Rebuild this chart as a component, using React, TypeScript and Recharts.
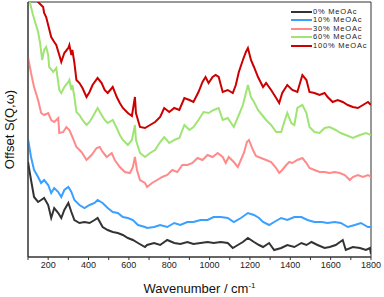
import { LineChart, Line, XAxis, YAxis, ReferenceArea, Label } from 'recharts';

// wavenumber (cm-1), offset S(Q,w) in arbitrary units
const mix0: [number, number][] = [
  [100, 95], [115, 77], [130, 60], [150, 55], [165, 57], [180, 59], [200, 52], [215, 39], [230, 49], [250, 44],
  [265, 39], [280, 47], [300, 54], [315, 45], [330, 37], [355, 34], [380, 35], [405, 34], [430, 37], [445, 39],
  [470, 30], [495, 27], [520, 25], [545, 24], [570, 22], [595, 19], [620, 17], [645, 14], [680, 10], [690, 12],
  [725, 14], [755, 12], [790, 17], [825, 14], [855, 13], [890, 15], [920, 13], [955, 14], [990, 15], [1020, 14],
  [1055, 15], [1090, 14], [1115, 9], [1140, 12], [1165, 15], [1190, 19], [1220, 15], [1245, 12], [1265, 10],
  [1295, 14], [1320, 7], [1355, 9], [1385, 12], [1420, 10], [1455, 14], [1480, 12], [1505, 15], [1535, 12],
  [1570, 9], [1595, 10], [1625, 12], [1660, 17], [1675, 7], [1710, 10], [1745, 9], [1775, 7], [1795, 9], [1800, 3],
];

const mix10: [number, number][] = [
  [100, 118], [115, 100], [130, 87], [150, 80], [165, 74], [180, 77], [200, 72], [215, 64], [230, 69], [250, 65],
  [265, 60], [280, 67], [300, 70], [315, 65], [330, 57], [355, 52], [380, 49], [405, 52], [430, 54], [445, 57],
  [470, 54], [495, 49], [520, 45], [545, 44], [570, 40], [595, 39], [620, 37], [645, 32], [680, 30], [690, 29],
  [725, 30], [755, 32], [790, 30], [825, 34], [855, 32], [890, 35], [920, 35], [955, 37], [990, 37], [1020, 40],
  [1055, 40], [1090, 39], [1120, 35], [1155, 39], [1190, 44], [1220, 42], [1245, 39], [1265, 35], [1295, 32],
  [1320, 35], [1355, 39], [1385, 37], [1420, 40], [1455, 40], [1485, 37], [1520, 35], [1555, 35], [1585, 34],
  [1620, 35], [1650, 34], [1685, 30], [1720, 32], [1750, 34], [1785, 30], [1800, 30],
];

const mix30: [number, number][] = [
  [100, 200], [115, 184], [130, 170], [150, 157], [165, 144], [180, 142], [200, 144], [215, 137], [230, 135],
  [250, 139], [255, 124], [275, 125], [290, 130], [305, 127], [320, 120], [340, 110], [365, 105], [390, 97],
  [415, 102], [440, 109], [455, 110], [470, 105], [490, 100], [515, 104], [530, 97], [555, 90], [580, 85],
  [605, 84], [620, 90], [630, 100], [640, 87], [655, 77], [680, 74], [690, 70], [715, 74], [740, 77], [765, 80],
  [790, 82], [815, 87], [840, 85], [865, 92], [890, 92], [915, 94], [940, 99], [965, 97], [990, 102], [1015, 100],
  [1040, 104], [1065, 100], [1080, 94], [1095, 100], [1120, 95], [1140, 90], [1155, 97], [1170, 104], [1185, 115],
  [1195, 117], [1215, 107], [1230, 101], [1255, 99], [1280, 97], [1305, 95], [1330, 89], [1345, 84], [1360, 87],
  [1380, 92], [1395, 95], [1410, 94], [1435, 97], [1460, 99], [1480, 94], [1495, 89], [1520, 87], [1545, 85],
  [1570, 85], [1595, 84], [1620, 85], [1645, 84], [1670, 82], [1695, 77], [1710, 80], [1735, 82], [1760, 80],
  [1785, 82], [1800, 80],
];

const mix60: [number, number][] = [
  [100, 262], [125, 242], [150, 225], [160, 214], [170, 197], [180, 207], [190, 210], [200, 202], [205, 190],
  [225, 185], [240, 189], [255, 167], [265, 164], [280, 170], [300, 175], [305, 177], [315, 167], [320, 172],
  [330, 160], [340, 145], [355, 142], [370, 137], [390, 132], [405, 135], [420, 140], [445, 149], [465, 142],
  [480, 137], [495, 134], [520, 137], [540, 129], [555, 122], [570, 117], [595, 112], [615, 117], [630, 132],
  [635, 117], [655, 104], [680, 100], [705, 104], [730, 107], [755, 115], [775, 120], [800, 114], [825, 117],
  [850, 119], [875, 132], [900, 127], [920, 130], [945, 137], [970, 145], [995, 144], [1020, 147], [1045, 149],
  [1065, 137], [1090, 139], [1120, 130], [1145, 142], [1165, 152], [1180, 164], [1190, 172], [1205, 160],
  [1220, 155], [1240, 147], [1260, 142], [1280, 137], [1305, 132], [1330, 125], [1355, 125], [1370, 135],
  [1385, 144], [1405, 134], [1420, 132], [1435, 149], [1460, 152], [1480, 144], [1495, 130], [1520, 125],
  [1545, 124], [1570, 129], [1595, 130], [1625, 127], [1650, 124], [1675, 122], [1710, 119], [1745, 122],
  [1775, 124], [1800, 122],
];

const mix100: [number, number][] = [
  [100, 285], [125, 262], [150, 255], [175, 250], [180, 244], [190, 240], [200, 232], [215, 220], [230, 215],
  [240, 212], [255, 202], [265, 195], [280, 204], [300, 209], [305, 212], [315, 202], [320, 207], [330, 194],
  [340, 177], [355, 174], [370, 169], [390, 160], [405, 165], [420, 172], [445, 179], [465, 174], [480, 167],
  [495, 164], [520, 170], [540, 160], [555, 154], [570, 149], [595, 144], [615, 141], [630, 160], [635, 144],
  [655, 130], [680, 129], [705, 132], [730, 135], [755, 140], [775, 149], [800, 145], [825, 149], [850, 147],
  [875, 159], [900, 157], [920, 155], [945, 165], [965, 175], [980, 180], [995, 174], [1015, 180], [1030, 182],
  [1045, 180], [1065, 165], [1090, 167], [1115, 164], [1130, 172], [1145, 185], [1165, 197], [1180, 205],
  [1190, 209], [1205, 197], [1220, 190], [1240, 180], [1265, 170], [1280, 174], [1305, 167], [1330, 159],
  [1345, 154], [1360, 164], [1385, 172], [1410, 167], [1435, 165], [1460, 182], [1480, 177], [1495, 165],
  [1520, 164], [1545, 162], [1570, 164], [1585, 160], [1610, 155], [1635, 157], [1660, 155], [1685, 152],
  [1710, 150], [1735, 149], [1760, 152], [1785, 155], [1800, 152],
];

const seriesNames = ['0% MeOAc', '10% MeOAc', '30% MeOAc', '60% MeOAc', '100% MeOAc'];
const seriesColors = ['#333333', '#3aa0ff', '#ff8a8a', '#a0e474', '#cc0000'];
const seriesData = [mix0, mix10, mix30, mix60, mix100];
const xTicks = [100, 200, 300, 400, 500, 600, 700, 800, 900, 1000, 1100, 1200, 1300, 1400, 1500, 1600, 1700, 1800];

const font = '"Liberation Sans", Arial, sans-serif';

function XTitle(props: any) {
  const { x, y, width } = props.viewBox;
  return (
    <text x={x + width / 2} y={y + 36} textAnchor="middle" fontSize={13} fontFamily={font} fill="#111">
      Wavenumber / cm<tspan dy={-5} fontSize={8}>-1</tspan>
    </text>
  );
}

function YTitle(props: any) {
  const { y, height } = props.viewBox;
  const cy = y + height / 2;
  return (
    <text x={14} y={cy} transform={`rotate(-90 14 ${cy})`} textAnchor="middle" fontSize={13} fontFamily={font} fill="#111">
      Offset S(Q,ω)
    </text>
  );
}

export default function App() {
  return (
    <div style={{ position: 'absolute', left: 0, top: 0, width: 384, height: 297, background: '#fff' }}>
      <LineChart width={384} height={297} margin={{ top: 2, right: 13, left: 0, bottom: 0 }}>
        <XAxis
          type="number"
          dataKey="x"
          domain={[100, 1800]}
          ticks={xTicks}
          allowDataOverflow
          height={40}
          tickSize={3}
          tickMargin={2}
          stroke="#333"
          tick={{ fontSize: 9, fill: '#222', fontFamily: font }}
          tickFormatter={(v: number) => (v % 200 === 0 ? String(v) : '')}
          interval={0}
        >
          <Label content={XTitle} />
        </XAxis>
        <YAxis type="number" domain={[0, 255]} allowDataOverflow width={28} tick={false} tickLine={false} stroke="#333">
          <Label content={YTitle} />
        </YAxis>
        <ReferenceArea x1={100} x2={1800} y1={0} y2={255} fill="none" stroke="#333" strokeWidth={1} />
        {seriesData.map((pts, i) => (
          <Line
            key={seriesNames[i]}
            data={pts.map(([x, y]) => ({ x, y }))}
            dataKey="y"
            type="linear"
            stroke={seriesColors[i]}
            strokeWidth={2}
            dot={false}
            isAnimationActive={false}
          />
        ))}
      </LineChart>
      <div
        style={{
          position: 'absolute', left: 291, top: 7.5, fontFamily: font, fontSize: 7.5,
          letterSpacing: 0.8, lineHeight: '8.5px', color: '#222',
        }}
      >
        {seriesNames.map((name, i) => (
          <div key={name} style={{ display: 'flex', alignItems: 'center', height: 8.5, whiteSpace: 'nowrap' }}>
            <span style={{ display: 'inline-block', width: 21, height: 2, background: seriesColors[i], marginRight: 1 }} />
            <span>{name}</span>
          </div>
        ))}
      </div>
    </div>
  );
}
